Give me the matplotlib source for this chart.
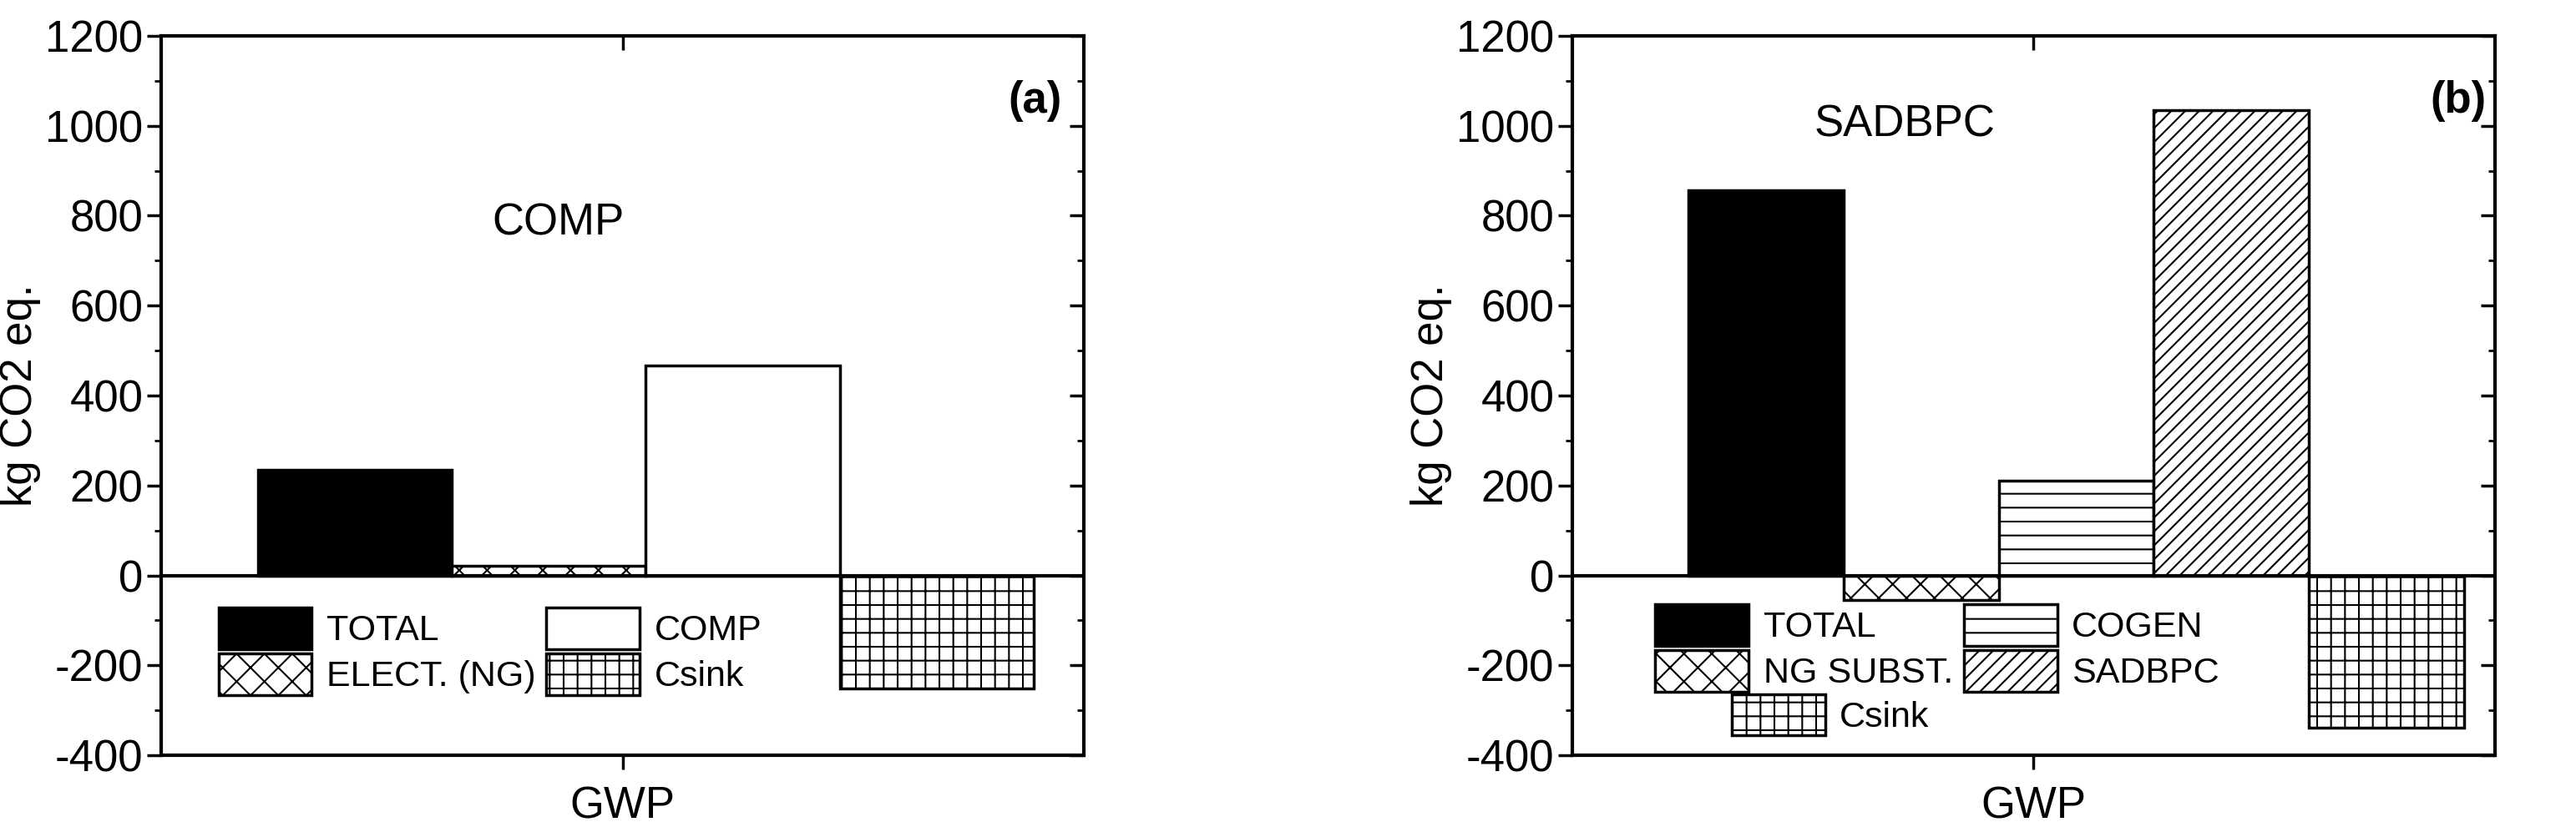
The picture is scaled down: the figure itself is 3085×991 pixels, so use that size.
import matplotlib.pyplot as plt
from matplotlib.patches import Patch
from matplotlib.ticker import MultipleLocator

plt.rcParams['font.family'] = ['Liberation Sans Narrow', 'Liberation Sans', 'DejaVu Sans']
plt.rcParams['hatch.linewidth'] = 1.5
plt.rcParams['axes.unicode_minus'] = False

# Panel (a)
labels_a = ['TOTAL', 'ELECT. (NG)', 'COMP', 'Csink']
values_a = [235, 22, 467, -252]
colors_a = ['black', 'white', 'white', 'white']
hatches_a = ['', 'x', '', '+']

# Panel (b)
labels_b = ['TOTAL', 'NG SUBST.', 'COGEN', 'SADBPC', 'Csink']
values_b = [857, -55, 210, 1035, -338]
colors_b = ['black', 'white', 'white', 'white', 'white']
hatches_b = ['', 'x', '-', '//', '+']

FS = 38
LFS = 31

fig = plt.figure(figsize=(30.85, 9.91), dpi=100)
ax_a = fig.add_axes([193 / 3085, 1 - 905 / 991, (1298 - 193) / 3085, (905 - 43) / 991])
ax_b = fig.add_axes([1883 / 3085, 1 - 905 / 991, (2988 - 1883) / 3085, (905 - 43) / 991])


def draw_panel(ax, labels, values, colors, hatches, xlim, tag, name, name_pos, legend_anchor):
    xs = list(range(len(values)))
    ax.bar(xs, values, width=1.0, color=colors, hatch=hatches,
           edgecolor='black', linewidth=2.5)
    ax.axhline(0, color='black', linewidth=3)
    ax.set_xlim(*xlim)
    ax.set_ylim(-400, 1200)
    ax.yaxis.set_major_locator(MultipleLocator(200))
    ax.yaxis.set_minor_locator(MultipleLocator(100))
    ax.set_xticks([(xlim[0] + xlim[1]) / 2])
    ax.set_xticklabels(['GWP'])
    ax.tick_params(axis='both', which='major', labelsize=FS, width=2.5, length=12, direction='out')
    ax.tick_params(axis='x', pad=14)
    ax.tick_params(axis='y', which='minor', width=2, length=6, direction='out')
    for sp in ax.spines.values():
        sp.set_linewidth(3)
    ax.set_ylabel('kg CO2 eq.', fontsize=FS)

    # inward ticks on right and top spines
    tw = ax.twinx()
    tw.set_ylim(ax.get_ylim())
    tw.yaxis.set_major_locator(MultipleLocator(200))
    tw.yaxis.set_minor_locator(MultipleLocator(100))
    tw.tick_params(axis='y', which='major', direction='in', length=12, width=2.5, labelright=False)
    tw.tick_params(axis='y', which='minor', direction='in', length=6, width=2)
    ty = ax.secondary_xaxis('top')
    ty.set_xticks(ax.get_xticks())
    ty.tick_params(direction='in', length=12, width=2.5, labeltop=False)

    ax.text(*name_pos, name, transform=ax.transAxes, fontsize=FS, ha='center', va='center')
    ax.text(0.947 if tag == '(a)' else 0.96, 0.91, tag, transform=ax.transAxes,
            fontsize=FS, fontweight='bold', ha='center', va='center')

    handles = [Patch(facecolor=c, edgecolor='black', hatch=h, linewidth=2.5)
               for c, h in zip(colors, hatches)]
    first = 4
    leg = ax.legend(handles[:first], labels[:first], ncol=2, loc='upper left',
                    bbox_to_anchor=legend_anchor, frameon=False, fontsize=LFS,
                    handlelength=2.6, handleheight=1.4, handletextpad=0.4,
                    columnspacing=0.3, labelspacing=0.12, borderaxespad=0, borderpad=0)
    if len(handles) > first:
        ax.add_artist(leg)
        ax.legend(handles[first:], labels[first:], loc='upper center',
                  bbox_to_anchor=(0.28, legend_anchor[1] - 0.125), frameon=False,
                  fontsize=LFS, handlelength=2.6, handleheight=1.4, handletextpad=0.4,
                  borderaxespad=0, borderpad=0)


draw_panel(ax_a, labels_a, values_a, colors_a, hatches_a, (-1.0, 3.76), '(a)', 'COMP',
           (0.43, 0.74), (0.062, 0.205))
draw_panel(ax_b, labels_b, values_b, colors_b, hatches_b, (-1.25, 4.7), '(b)', 'SADBPC',
           (0.36, 0.877), (0.09, 0.21))

fig.savefig('out.png', dpi=100)
